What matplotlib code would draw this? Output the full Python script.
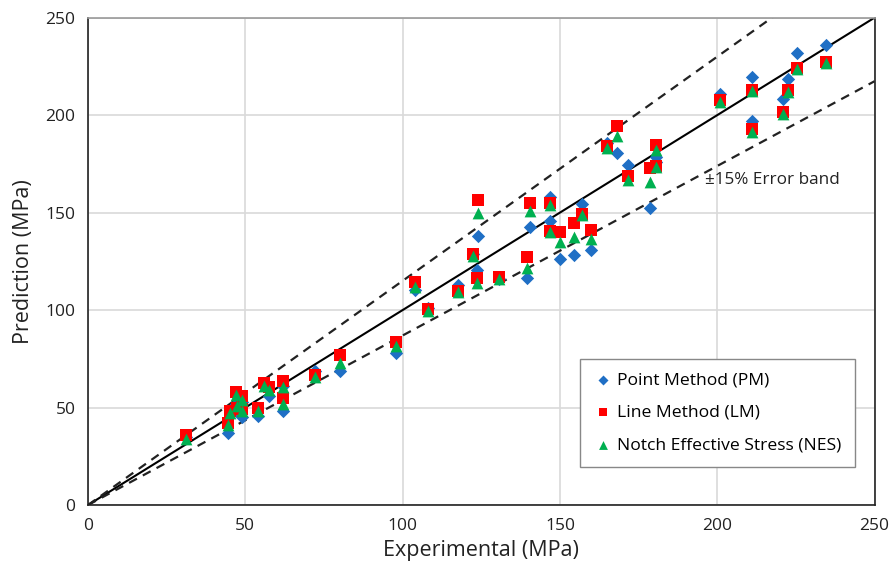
import matplotlib
matplotlib.use("Agg")
import matplotlib.pyplot as plt
import numpy as np

plt.rcParams['font.family'] = ['Open Sans', 'DejaVu Sans']

experimental = [31, 44.5, 45, 47, 47.5, 49, 49, 54, 56, 57.5, 62, 62, 72, 80, 98,
                104, 108, 117.5, 122.5, 123.5, 124, 130.5, 139.5, 140.5, 147, 147,
                150, 154.5, 157, 160, 165, 168, 171.5, 178.5, 180.5, 180.5,
                201, 211, 211, 221, 222.5, 225.5, 234.5]
pm = [35, 37, 46, 52, 48, 53, 45, 45.5, 61, 56, 61, 48, 69, 68.5, 78,
      110.5, 101, 113, 129, 120.5, 138, 116, 116.5, 142.5, 158, 145.5,
      126, 128, 154.5, 131, 185.5, 180.5, 174.5, 152.5, 178.5, 176,
      211, 219.5, 197, 208.5, 218.5, 232, 236]
lm = [36, 42, 48, 58, 50, 56, 49, 50, 62.5, 60.5, 63.5, 55, 66.5, 77, 83.5,
      114.5, 100.5, 110, 129, 116.5, 156.5, 117, 127, 155, 155, 140.5,
      140, 144.5, 149.5, 141, 184, 194.5, 169, 172.8, 184.8, 174,
      208, 213, 193, 201.5, 213, 224, 227.5]
nes = [34, 41, 47, 56.5, 51, 54, 48, 48, 61, 59, 60.5, 52, 65.5, 73, 81.5,
       112, 99.5, 109.5, 127.5, 114, 150, 116, 121.5, 151, 154, 140,
       135, 137.5, 149, 136.5, 183, 189.5, 166.5, 165.5, 182, 173.5,
       206.5, 212.5, 191.5, 200.5, 212, 223.5, 227]

fig = plt.figure(figsize=(8.91, 5.74), dpi=100)
ax = fig.add_axes([0.0988, 0.1202, 0.8827, 0.849])

line_x = np.array([0, 250])
ax.plot(line_x, line_x, color='black', lw=1.5, zorder=2)
ax.plot(line_x, line_x * 1.15, color='#222222', lw=1.6, ls=(0, (4, 3)), zorder=2)
ax.plot(line_x, line_x / 1.15, color='#222222', lw=1.6, ls=(0, (4, 3)), zorder=2)

ax.scatter(experimental, pm, marker='D', s=46, color='#1F6FC5', label='Point Method (PM)', zorder=3, linewidths=0)
ax.scatter(experimental, lm, marker='s', s=68, color='#FF0000', label='Line Method (LM)', zorder=4, linewidths=0)
ax.scatter(experimental, nes, marker='^', s=72, color='#00B050', label='Notch Effective Stress (NES)', zorder=5, linewidths=0)

ax.text(196, 166.5, '±15% Error band', fontsize=12.3, color='#222222', va='center', ha='left')

ax.set_xlim(0, 250)
ax.set_ylim(0, 250)
ax.set_xticks([0, 50, 100, 150, 200, 250])
ax.set_yticks([0, 50, 100, 150, 200, 250])
ax.tick_params(length=0, labelsize=12.5, colors='#222222', pad=9)
ax.grid(True, color='#D9D9D9', lw=1.2, zorder=0)
ax.set_axisbelow(True)
for s in ax.spines.values():
    s.set_color('#222222')
    s.set_linewidth(1.2)
ax.spines['top'].set_color('#999999')

ax.set_xlabel('Experimental (MPa)', fontsize=15.5, color='#222222', labelpad=5)
ax.set_ylabel('Prediction (MPa)', fontsize=15.5, color='#222222', labelpad=8)

leg = ax.legend(loc='lower right', bbox_to_anchor=(0.975, 0.078), fontsize=12.6,
                frameon=True, fancybox=False, edgecolor='#888888', framealpha=1,
                handletextpad=0.2, borderpad=0.75, labelspacing=0.95,
                handlelength=1.2, markerscale=0.75, borderaxespad=0)
leg.get_frame().set_linewidth(1.0)

fig.savefig('out.png', dpi=100)
